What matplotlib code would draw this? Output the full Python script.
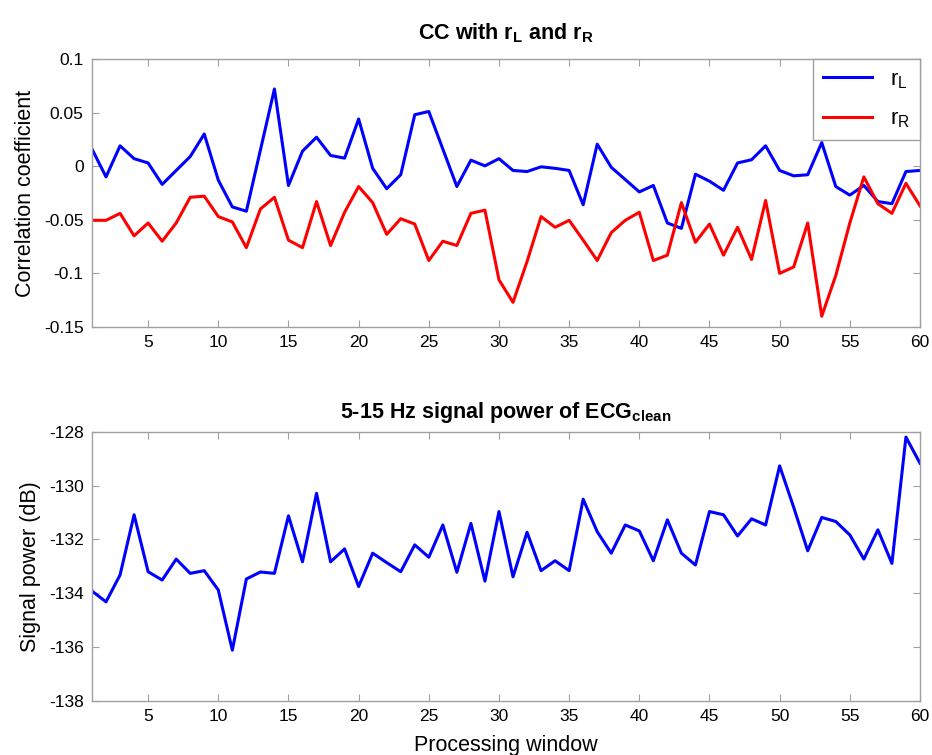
import numpy as np
import matplotlib
matplotlib.use('Agg')
import matplotlib.pyplot as plt

plt.rcParams['font.family'] = ['Liberation Sans', 'DejaVu Sans']
plt.rcParams['mathtext.fontset'] = 'custom'
plt.rcParams['mathtext.rm'] = 'Liberation Sans'
plt.rcParams['mathtext.bf'] = 'Liberation Sans:bold'
plt.rcParams['axes.unicode_minus'] = False

# processing windows
windows = np.arange(1, 61)

# correlation coefficients
r_left = [0.016, -0.010, 0.019, 0.007, 0.003, -0.017, -0.004, 0.009, 0.030, -0.013,
          -0.038, -0.042, 0.015, 0.072, -0.018, 0.014, 0.027, 0.010, 0.0075, 0.044,
          -0.002, -0.021, -0.008, 0.048, 0.051, 0.016, -0.019, 0.0056, 0.0003, 0.007,
          -0.004, -0.005, -0.0006, -0.002, -0.004, -0.036, 0.0205, -0.001, -0.0125, -0.024,
          -0.018, -0.053, -0.058, -0.0075, -0.014, -0.0225, 0.003, 0.006, 0.019, -0.004,
          -0.009, -0.008, 0.022, -0.019, -0.027, -0.018, -0.033, -0.035, -0.005, -0.004]
r_right = [-0.0505, -0.0505, -0.044, -0.065, -0.053, -0.070, -0.053, -0.029, -0.028, -0.047,
           -0.052, -0.076, -0.040, -0.029, -0.069, -0.076, -0.033, -0.074, -0.043, -0.019,
           -0.034, -0.0636, -0.049, -0.054, -0.088, -0.070, -0.074, -0.044, -0.041, -0.106,
           -0.127, -0.089, -0.047, -0.057, -0.0505, -0.069, -0.088, -0.062, -0.0505, -0.043,
           -0.088, -0.083, -0.034, -0.071, -0.054, -0.083, -0.057, -0.087, -0.032, -0.100,
           -0.094, -0.053, -0.140, -0.102, -0.053, -0.010, -0.035, -0.044, -0.016, -0.037]

# 5-15 Hz signal power (dB)
power_db = [-133.92, -134.32, -133.32, -131.08, -133.20, -133.51, -132.73, -133.26, -133.16, -133.88,
            -136.12, -133.47, -133.21, -133.26, -131.12, -132.83, -130.28, -132.83, -132.35, -133.75,
            -132.51, -132.86, -133.20, -132.20, -132.66, -131.46, -133.22, -131.40, -133.55, -130.96,
            -133.39, -131.73, -133.16, -132.79, -133.16, -130.50, -131.71, -132.51, -131.46, -131.68,
            -132.79, -131.27, -132.51, -132.95, -130.96, -131.08, -131.87, -131.23, -131.46, -129.26,
            -130.80, -132.42, -131.18, -131.33, -131.83, -132.73, -131.64, -132.89, -128.19, -129.16]

fig = plt.figure(figsize=(9.32, 7.55), dpi=100)
ax1 = fig.add_axes([0.0987, 0.5669, 0.8884, 0.355])
ax2 = fig.add_axes([0.0987, 0.0719, 0.8884, 0.3559])

def style_axes(ax):
    for s in ax.spines.values():
        s.set_color('#a0a0a0')
        s.set_linewidth(1.0)
    ax.tick_params(direction='in', top=True, right=True, length=5,
                   color='#a0a0a0', labelsize=12.5, labelcolor='black', pad=6)
    ax.set_xlim(1, 60)
    ax.set_xticks(np.arange(5, 61, 5))

ax1.plot(windows, r_left, color='#0000ff', lw=2.2, label=r'r$_\mathregular{L}$')
ax1.plot(windows, r_right, color='#ff0000', lw=2.2, label=r'r$_\mathregular{R}$')
style_axes(ax1)
ax1.set_ylim(-0.15, 0.1)
ax1.set_yticks([-0.15, -0.1, -0.05, 0, 0.05, 0.1])
ax1.set_yticklabels(['-0.15', '-0.1', '-0.05', '0', '0.05', '0.1'])
ax1.set_ylabel('Correlation coefficient', fontsize=15.5, labelpad=6)
ax1.set_title(r'CC with r$_\mathbf{L}$ and r$_\mathbf{R}$', fontsize=15.5,
              fontweight='bold', pad=14)
leg = ax1.legend(loc='upper right', fontsize=16, fancybox=False, framealpha=1,
                 borderaxespad=0, handlelength=2.2, borderpad=0.45, labelspacing=0.8)
leg.get_frame().set_edgecolor('#a0a0a0')
leg.get_frame().set_linewidth(1.0)

ax2.plot(windows, power_db, color='#0000ff', lw=2.2)
style_axes(ax2)
ax2.set_ylim(-138, -128)
ax2.set_yticks(np.arange(-138, -127, 2))
ax2.set_ylabel('Signal power (dB)', fontsize=15.5, labelpad=6)
ax2.set_xlabel('Processing window', fontsize=15.5, labelpad=8)
ax2.set_title(r'5-15 Hz signal power of ECG$_\mathbf{clean}$', fontsize=15.5,
              fontweight='bold', pad=10)

fig.savefig('out.png', dpi=100)
